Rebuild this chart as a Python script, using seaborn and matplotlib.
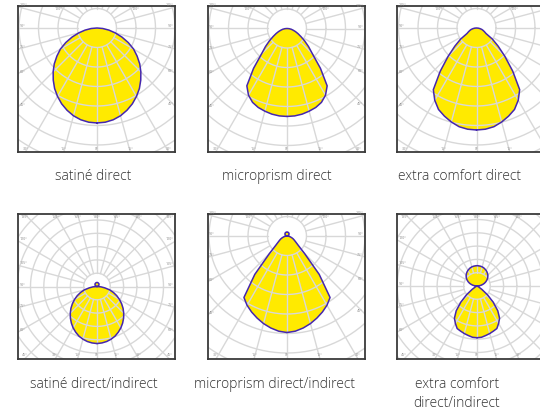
import numpy as np
import matplotlib
matplotlib.use("Agg")
import matplotlib.pyplot as plt
import seaborn as sns

sns.set_style("white")
plt.rcParams["font.family"] = ["Open Sans", "DejaVu Sans"]

# polar angles measured from nadir (deg), half curve 0..180
angles = [0, 5, 10, 15, 20, 25, 30, 35, 40, 45, 50, 55, 60, 65, 70, 75, 80, 85, 90,
          95, 100, 105, 110, 115, 120, 125, 130, 135, 140, 145, 150, 155, 160, 165, 170, 175, 180]

# luminous intensity (cd/klm), rings every 100 cd/klm
satine_direct = [487, 485, 478, 466, 449, 429, 405, 379, 349, 318, 286, 251, 217, 177, 136, 97, 62, 30, 0,
                 0, 0, 0, 0, 0, 0, 0, 0, 0, 0, 0, 0, 0, 0, 0, 0, 0, 0]
microprism_direct = [451, 450, 446, 439, 431, 418, 395, 359, 267, 185, 144, 110, 82, 62, 46, 32, 22, 11, 0,
                     0, 0, 0, 0, 0, 0, 0, 0, 0, 0, 0, 0, 0, 0, 0, 0, 0, 0]
extra_comfort_direct = [523, 521, 514, 499, 481, 461, 428, 386, 289, 206, 145, 100, 56, 45, 36, 28, 18, 9, 0,
                        0, 0, 0, 0, 0, 0, 0, 0, 0, 0, 0, 0, 0, 0, 0, 0, 0, 0]
satine_di = [429, 426, 420, 410, 397, 379, 359, 336, 311, 284, 256, 226, 195, 164, 132, 99, 60, 30, 0,
             3, 5, 8, 10, 13, 15, 17, 19, 21, 23, 25, 26, 27, 28, 29, 30, 30, 30]
microprism_di = [495, 490, 479, 465, 448, 430, 410, 385, 257, 128, 77, 56, 44, 35, 26, 18, 12, 6, 0,
                 2, 4, 5, 7, 9, 10, 12, 13, 15, 16, 17, 18, 19, 19, 20, 20, 20, 21]
extra_comfort_di = [389, 387, 378, 370, 361, 353, 325, 296, 243, 172, 103, 45, 15, 4, 0, 0, 0, 0, 0,
                    15, 30, 44, 59, 72, 84, 96, 106, 115, 123, 130, 136, 141, 146, 149, 151, 152, 153]

titles = ["satiné direct", "microprism direct", "extra comfort direct",
          "satiné direct/indirect", "microprism direct/indirect", "extra comfort\ndirect/indirect"]
series = [satine_direct, microprism_direct, extra_comfort_direct,
          satine_di, microprism_di, extra_comfort_di]

FIG_W, FIG_H = 540, 413
YELLOW = "#ffea00"
LINE = "#4527ae"
GRID = "#d8d8d8"

# layout in px: left, top, width, height, centre x, centre y, px per ring (100 cd/klm)
panels = [
    (18, 6, 157, 146, 97, 28, 19.5),
    (207.5, 6, 157, 146, 287, 28.5, 19.5),
    (397, 6, 157, 146, 476.5, 28, 19.5),
    (18, 214, 157, 145, 97, 286.5, 13.3),
    (207.5, 214, 157, 145, 287, 236, 19.5),
    (397, 214, 157, 145, 477, 286, 13.3),
]
label_pos = [(93, 177), (277, 177), (460, 177), (93.5, 385), (274, 385), (457, 394)]

fig = plt.figure(figsize=(FIG_W / 100, FIG_H / 100), dpi=100)
ang = np.array(angles, dtype=float)
tcirc = np.linspace(0, 2 * np.pi, 361)

for i, vals in enumerate(series):
    L, T, W, H, cx, cy, step = panels[i]
    s = step / 100.0
    ax = fig.add_axes([L / FIG_W, 1 - (T + H) / FIG_H, W / FIG_W, H / FIG_H])
    x0, x1 = (L - cx) / s, (L + W - cx) / s
    y0, y1 = (cy - (T + H)) / s, (cy - T) / s

    v = np.array(vals, dtype=float)
    th = np.deg2rad(np.concatenate([ang, 360 - ang[::-1][1:]]))
    r = np.concatenate([v, v[::-1][1:]])
    x = r * np.sin(th)
    y = -r * np.cos(th)

    ax.fill(x, y, color=YELLOW, lw=0, zorder=1)

    for k in range(1, 16):
        ax.plot(100 * k * np.cos(tcirc), 100 * k * np.sin(tcirc), color=GRID, lw=1.0, zorder=2)
    for a in range(0, 360, 15):
        ar = np.deg2rad(a)
        ax.plot([100 * np.sin(ar), 3000 * np.sin(ar)], [-100 * np.cos(ar), -3000 * np.cos(ar)],
                color=GRID, lw=1.0, zorder=2)
        # angle label where the radial line meets the frame
        dx, dy = np.sin(ar), -np.cos(ar)
        cands = []
        if dx > 1e-9:
            cands.append((x1 / dx, "r"))
        if dx < -1e-9:
            cands.append((x0 / dx, "l"))
        if dy > 1e-9:
            cands.append((y1 / dy, "t"))
        if dy < -1e-9:
            cands.append((y0 / dy, "b"))
        tt, edge = min(cands)
        if tt * s < 40:
            continue
        px, py = tt * dx, tt * dy
        if cx + px * s > FIG_W - 8:
            continue
        pad = 1.5 / s
        lab = f"{a if a <= 180 else 360 - a}°"
        kw = dict(fontsize=2.6, color="#8a8a8a", zorder=4)
        if edge == "l":
            ax.text(px + pad, py, lab, ha="left", va="bottom", **kw)
        elif edge == "r":
            ax.text(px - pad, py, lab, ha="right", va="bottom", **kw)
        elif edge == "b":
            ax.text(px, py + pad, lab, ha="center", va="bottom", **kw)
        else:
            ax.text(px, py - pad, lab, ha="center", va="top", **kw)

    sns.lineplot(x=x, y=y, sort=False, estimator=None, color=LINE, lw=1.1, ax=ax, zorder=3)

    ax.set_xlim(x0, x1)
    ax.set_ylim(y0, y1)
    ax.set_xticks([])
    ax.set_yticks([])
    ax.set_xlabel("")
    ax.set_ylabel("")
    for sp in ax.spines.values():
        sp.set_visible(True)
        sp.set_color("#3a3a3a")
        sp.set_linewidth(1.3)

    lx, ly = label_pos[i]
    fig.text(lx / FIG_W, 1 - ly / FIG_H, titles[i], ha="center", va="center", fontsize=10,
             color="#333333", fontweight="light", linespacing=1.3)

fig.savefig("out.png", dpi=100, facecolor="white")
